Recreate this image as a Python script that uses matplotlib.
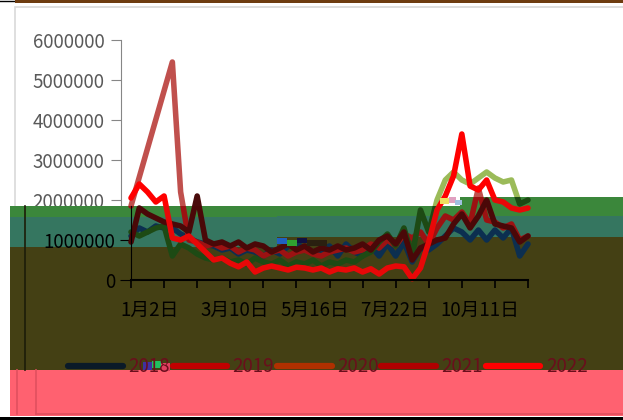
import matplotlib.pyplot as plt
import numpy as np
from matplotlib.patches import Rectangle, Polygon
from matplotlib.lines import Line2D

plt.rcParams['font.family'] = ['Noto Sans CJK SC', 'DejaVu Sans']

# weekly values, millions
years = ['2018', '2019', '2020', '2021', '2022']
v2018 = [1.1, 1.3, 1.2, 1.35, 1.3, 1.3, 1.15, 1.05, 0.95, 0.9,
         0.85, 0.75, 0.8, 0.65, 0.75, 0.7, 0.6, 0.75, 0.65, 0.85,
         0.9, 0.8, 0.7, 0.75, 0.85, 0.6, 0.9, 0.7, 0.6, 0.85,
         0.6, 0.9, 0.6, 0.95, 0.45, 0.8, 0.75, 0.9, 1.1, 1.3,
         1.2, 1.0, 1.25, 1.0, 1.25, 1.05, 1.3, 0.6, 0.9]
v2019 = [1.85, np.nan, np.nan, np.nan, np.nan, 5.45, 2.2, 1.0, 0.95, 0.85,
         0.9, 0.8, 0.85, 0.7, 0.8, 0.75, 0.6, 0.7, 0.75, 0.6,
         0.7, 0.75, 0.65, 0.6, 0.7, 0.75, 0.8, 0.7, 0.75, 0.9,
         0.8, 1.0, 0.85, 1.15, 1.05, 1.2, 0.9, 1.3, 1.6, 1.5,
         1.7, 1.4, 2.3, 1.5, 1.45, 1.3, 1.4, 1.0, 1.1]
v2020 = [1.2, 1.1, 1.2, 1.3, 1.35, 0.6, 0.9, 0.8, 0.65, 0.55,
         0.5, 0.55, 0.45, 0.5, 0.4, 0.55, 0.45, 0.4, 0.5, 0.35,
         0.45, 0.4, 0.5, 0.35, 0.45, 0.4, 0.5, 0.45, 0.6, 0.7,
         0.95, 1.15, 0.85, 1.3, 0.6, 1.75, 1.2, 2.0, 2.5, 2.7,
         2.5, 2.4, 2.55, 2.7, 2.55, 2.45, 2.5, 1.9, 2.0]
v2021 = [0.95, 1.8, 1.65, 1.55, 1.45, 1.4, 1.35, 1.2, 2.1, 1.0,
         0.9, 0.95, 0.85, 0.95, 0.8, 0.9, 0.85, 0.7, 0.8, 0.9,
         0.75, 0.85, 0.7, 0.8, 0.75, 0.85, 0.75, 0.8, 0.9, 0.75,
         1.0, 1.1, 0.9, 1.2, 0.5, 0.8, 0.9, 1.0, 1.05, 1.4,
         1.65, 1.3, 1.6, 2.0, 1.4, 1.35, 1.3, 0.95, 1.1]
v2022 = [2.05, 2.4, 2.2, 1.95, 2.1, 1.05, 1.0, 1.1, 0.9, 0.7,
         0.5, 0.55, 0.42, 0.33, 0.45, 0.2, 0.3, 0.35, 0.3, 0.25,
         0.32, 0.3, 0.25, 0.3, 0.2, 0.28, 0.25, 0.3, 0.2, 0.28,
         0.15, 0.3, 0.35, 0.33, 0.03, 0.3, 0.95, 1.75, 2.1, 2.6,
         3.65, 2.35, 2.25, 2.5, 2.0, 1.95, 1.8, 1.75, 1.8]
series = [v2018, v2019, v2020, v2021, v2022]

xlabels = ['1月2日', '3月10日', '5月16日', '7月22日', '10月11日']
xlabel_pos = [2.3, 12.5, 22.2, 31.9, 42.2]
yticks = [0, 1000000, 2000000, 3000000, 4000000, 5000000, 6000000]

# colours as they look above / inside the coloured strips
col_top = ['#1f4e79', '#c0504d', '#9bbb59', '#4a0c0c', '#ff0000']
col_band = ['#0c2f50', '#9c1212', '#1d4a14', '#4a0808', '#e80808']
col_leg = ['#0a1a28', '#c00000', '#b03000', '#b00000', '#ff0000']

W, H = 623, 420
fig = plt.figure(figsize=(W / 100, H / 100), dpi=100)


def fx(x):
    return x / W


def fy(y):
    return 1 - y / H


def box(x0, y0, x1, y1, color, z):
    r = Rectangle((fx(x0), fy(y1)), (x1 - x0) / W, (y1 - y0) / H,
                  transform=fig.transFigure, facecolor=color,
                  edgecolor='none', zorder=z)
    fig.add_artist(r)


def seg(xs, ys, color, lw, z):
    fig.add_artist(Line2D([fx(x) for x in xs], [fy(y) for y in ys],
                          transform=fig.transFigure, color=color, lw=lw, zorder=z))


# outer frame
seg([0, 15], [0.5, 0.5], 'black', 1.0, 0)
box(15, 0, 623, 3, '#6e3c10', 0)
fig.add_artist(Rectangle((fx(15), fy(414)), 620 / W, 407 / H, transform=fig.transFigure,
                         facecolor='none', edgecolor='#d9d9d9', lw=1.2, zorder=0))

# coloured strips
box(10, 206, 460, 217, '#3b873b', 2)
box(460, 197, 623, 216, '#3b873b', 2)
box(10, 217, 277, 247, '#357660', 2)
box(277, 216, 623, 237, '#357660', 2)
box(10, 247, 277, 370, '#444014', 2)
box(277, 237, 623, 370, '#444014', 2)
box(10, 370, 623, 416, '#ff6170', 2)
seg([25, 25], [206, 370], '#1c1c08', 1.2, 2.5)
seg([17, 17], [370, 414], '#e0505e', 1.2, 2.5)
seg([36, 36], [370, 414], '#e0505e', 1.2, 2.5)
seg([36, 623], [414, 414], '#e0505e', 1.2, 2.5)
box(0, 417, 623, 420, 'black', 2.5)

# small broken blocks
for b in [(277, 238, 287, 244, '#2060c0'), (287, 240, 297, 246, '#30a030'),
          (297, 238, 307, 243, '#101040'), (307, 240, 327, 246, '#2a2010'),
          (440, 198, 449, 204, '#f0e060'), (449, 197, 456, 203, '#e0a0c0'),
          (455, 200, 462, 205, '#a0c0e0'), (143, 362, 152, 370, '#4030a0'),
          (152, 361, 161, 368, '#20c060'), (161, 363, 170, 371, '#e04060')]:
    box(*b, 4)

band_pts = [(10, 206), (460, 206), (460, 197), (623, 197), (623, 420), (10, 420)]
top_pts = [(0, 0), (623, 0), (623, 197), (460, 197), (460, 206), (10, 206), (10, 420), (0, 420)]
band_clip = Polygon([(fx(x), fy(y)) for x, y in band_pts], closed=True, transform=fig.transFigure)
top_clip = Polygon([(fx(x), fy(y)) for x, y in top_pts], closed=True, transform=fig.transFigure)

# value axis as it shows above the strips
ax_w = fig.add_axes([fx(121), fy(280), 397 / W, 240 / H], zorder=1)
ax_w.set_facecolor('none')
for s in ['top', 'right', 'bottom']:
    ax_w.spines[s].set_visible(False)
ax_w.spines['left'].set_color('#868686')
ax_w.set_ylim(0, 6000000)
ax_w.set_yticks(yticks)
ax_w.set_yticklabels(['', ''] + [str(v) for v in yticks[2:]])
ax_w.set_xticks([])
ax_w.tick_params(axis='y', colors='#868686', labelcolor='#595959', length=7,
                 labelsize=13.5, pad=5)

# main plot
ax = fig.add_axes([fx(131), fy(280), 397 / W, 240 / H], zorder=3)
ax.set_facecolor('none')
ax.spines['top'].set_visible(False)
ax.spines['right'].set_visible(False)
ax.spines['left'].set_color('black')
ax.spines['left'].set_bounds(0, 1850000)
ax.spines['bottom'].set_linewidth(1.5)
ax.set_xlim(0, 48)
ax.set_ylim(0, 6000000)
ax.set_yticks(yticks[:2])
ax.set_yticklabels([str(v) for v in yticks[:2]])
ax.tick_params(axis='y', colors='black', length=8, labelsize=13.5, pad=3)
ax.set_xticks(xlabel_pos)
ax.set_xticklabels(xlabels)
ax.set_xticks(np.arange(0, 49, 4), minor=True)
ax.tick_params(axis='x', which='major', length=0, labelsize=13.5, pad=14, colors='black')
ax.tick_params(axis='x', which='minor', length=6, width=1.2, colors='black')

x = np.arange(len(v2022))
for vals, ct, cb in zip(series, col_top, col_band):
    y = np.array(vals, dtype=float)
    m = ~np.isnan(y)
    for c, clip in [(ct, top_clip), (cb, band_clip)]:
        ln, = ax.plot(x[m], y[m] * 1e6, color=c, lw=4.0,
                      solid_capstyle='round', solid_joinstyle='round')
        ln.set_clip_path(clip)
        ln.set_clip_box(None)

handles = [Line2D([], [], color=c, lw=4.5, solid_capstyle='round') for c in col_leg]
fig.legend(handles, years, loc='center', bbox_to_anchor=(fx(328), fy(367)), ncol=5,
           frameon=False, handlelength=2.9, handletextpad=0.3, columnspacing=0.15,
           fontsize=13.5, labelcolor='#6a0e1c')

fig.savefig('out.png', dpi=100)
